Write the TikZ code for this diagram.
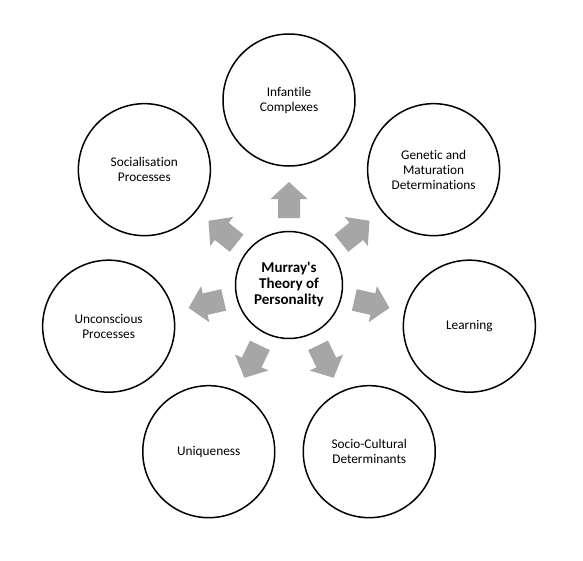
\documentclass[tikz,border=0pt]{standalone}
\usepackage{fontspec}
\setmainfont{Carlito}[Ligatures={NoCommon}]
\usetikzlibrary{calc}
\definecolor{arrowgray}{HTML}{A6A6A6}
\tikzset{
  outer/.style={circle, draw=black, line width=1.5pt, fill=white, minimum size=132pt, inner sep=0pt, align=center, font=\fontsize{13.3}{15}\selectfont},
  hub/.style={circle, draw=black, line width=1.5pt, fill=white, minimum size=107pt, inner sep=0pt, align=center, font=\fontsize{15}{16}\selectfont\bfseries},
  blockarrow/.style={fill=arrowgray, draw=none}
}
\begin{document}
\begin{tikzpicture}[x=1pt,y=1pt]
\useasboundingbox (0,0) rectangle (583,-560);
\fill[white] (0,0) rectangle (583,-560);
\coordinate (c) at (289,-285);
\node[hub] (hubnode) at (c) {Murray\textquotesingle s\\Theory of\\Personality};
\node[outer] (n1) at ([shift={(90:185)}]c) {Infantile\\Complexes};
\node[outer] (n2) at ([shift={(38.57:185)}]c) {Genetic and\\Maturation\\Determinations};
\node[outer] (n3) at ([shift={(-12.86:185)}]c) {Learning};
\node[outer] (n4) at ([shift={(-64.29:185)}]c) {Socio-Cultural\\Determinants};
\node[outer] (n5) at ([shift={(-115.71:185)}]c) {Uniqueness};
\node[outer] (n6) at ([shift={(-167.14:185)}]c) {Unconscious\\Processes};
\node[outer] (n7) at ([shift={(141.43:185)}]c) {Socialisation\\Processes};
\foreach \a in {90,38.57,-12.86,-64.29,-115.71,-167.14,141.43}{
  \fill[blockarrow, shift={(c)}, rotate=\a]
    (67,-11) -- (86,-11) -- (86,-18.5) -- (103,0) -- (86,18.5) -- (86,11) -- (67,11) -- cycle;
}
\end{tikzpicture}
\end{document}
